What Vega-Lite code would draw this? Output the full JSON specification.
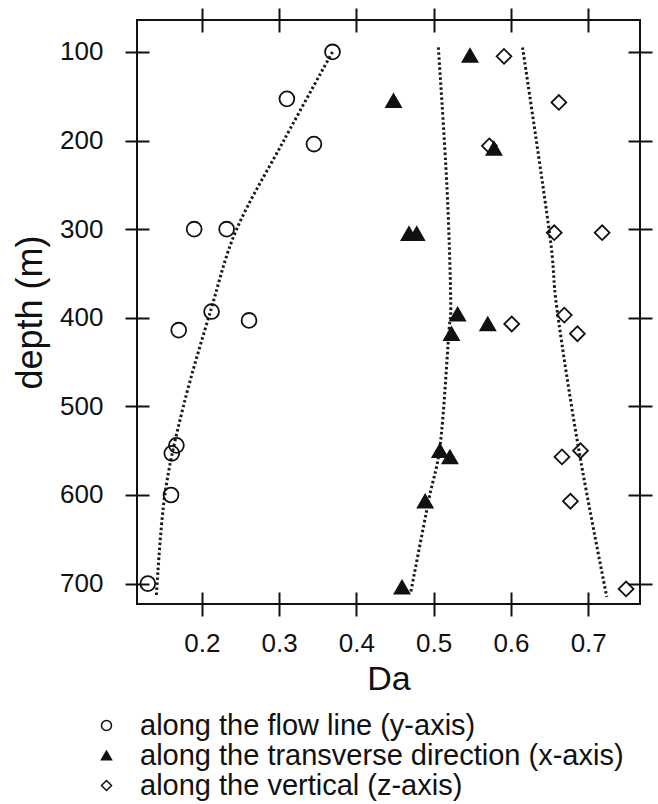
{
  "$schema": "https://vega.github.io/schema/vega-lite/v6.json",
  "autosize": {"type": "none"},
  "padding": {"left": 137, "top": 20, "right": 18, "bottom": 200},
  "width": 503,
  "height": 584,
  "background": "white",
  "config": {
    "view": {"stroke": "#111", "strokeWidth": 2},
    "font": "Liberation Sans",
    "axis": {"grid": false, "domain": false, "tickColor": "#111", "tickWidth": 2, "tickSize": 24, "offset": -12, "labelColor": "#111", "titleColor": "#111", "labelFont": "Liberation Sans", "titleFont": "Liberation Sans", "titleFontWeight": "normal", "labelFontSize": 26}
  },
  "datasets": {
    "pts": [
      {"da": 0.369, "depth": 100, "dir": "along the flow line (y-axis)"},
      {"da": 0.310, "depth": 153, "dir": "along the flow line (y-axis)"},
      {"da": 0.345, "depth": 204, "dir": "along the flow line (y-axis)"},
      {"da": 0.190, "depth": 300, "dir": "along the flow line (y-axis)"},
      {"da": 0.232, "depth": 300, "dir": "along the flow line (y-axis)"},
      {"da": 0.2125, "depth": 393, "dir": "along the flow line (y-axis)"},
      {"da": 0.170, "depth": 414, "dir": "along the flow line (y-axis)"},
      {"da": 0.261, "depth": 403, "dir": "along the flow line (y-axis)"},
      {"da": 0.167, "depth": 544, "dir": "along the flow line (y-axis)"},
      {"da": 0.161, "depth": 553, "dir": "along the flow line (y-axis)"},
      {"da": 0.160, "depth": 600, "dir": "along the flow line (y-axis)"},
      {"da": 0.130, "depth": 700, "dir": "along the flow line (y-axis)"},
      {"da": 0.547, "depth": 104, "dir": "along the transverse direction (x-axis)"},
      {"da": 0.448, "depth": 155, "dir": "along the transverse direction (x-axis)"},
      {"da": 0.578, "depth": 209, "dir": "along the transverse direction (x-axis)"},
      {"da": 0.468, "depth": 305, "dir": "along the transverse direction (x-axis)"},
      {"da": 0.478, "depth": 305, "dir": "along the transverse direction (x-axis)"},
      {"da": 0.531, "depth": 396, "dir": "along the transverse direction (x-axis)"},
      {"da": 0.570, "depth": 407, "dir": "along the transverse direction (x-axis)"},
      {"da": 0.523, "depth": 418, "dir": "along the transverse direction (x-axis)"},
      {"da": 0.508, "depth": 550, "dir": "along the transverse direction (x-axis)"},
      {"da": 0.521, "depth": 557, "dir": "along the transverse direction (x-axis)"},
      {"da": 0.489, "depth": 607, "dir": "along the transverse direction (x-axis)"},
      {"da": 0.459, "depth": 704, "dir": "along the transverse direction (x-axis)"},
      {"da": 0.591, "depth": 105, "dir": "along the vertical (z-axis)"},
      {"da": 0.662, "depth": 157, "dir": "along the vertical (z-axis)"},
      {"da": 0.572, "depth": 206, "dir": "along the vertical (z-axis)"},
      {"da": 0.656, "depth": 304, "dir": "along the vertical (z-axis)"},
      {"da": 0.718, "depth": 304, "dir": "along the vertical (z-axis)"},
      {"da": 0.601, "depth": 407, "dir": "along the vertical (z-axis)"},
      {"da": 0.669, "depth": 397, "dir": "along the vertical (z-axis)"},
      {"da": 0.686, "depth": 418, "dir": "along the vertical (z-axis)"},
      {"da": 0.666, "depth": 557, "dir": "along the vertical (z-axis)"},
      {"da": 0.690, "depth": 550, "dir": "along the vertical (z-axis)"},
      {"da": 0.677, "depth": 607, "dir": "along the vertical (z-axis)"},
      {"da": 0.749, "depth": 706, "dir": "along the vertical (z-axis)"}
    ],
    "fit": [
      {"curve": "A", "da": 0.369, "depth": 100},
      {"curve": "A", "da": 0.306, "depth": 200},
      {"curve": "A", "da": 0.245, "depth": 300},
      {"curve": "A", "da": 0.212, "depth": 390},
      {"curve": "A", "da": 0.176, "depth": 500},
      {"curve": "A", "da": 0.152, "depth": 600},
      {"curve": "A", "da": 0.141, "depth": 715},
      {"curve": "B", "da": 0.506, "depth": 95},
      {"curve": "B", "da": 0.517, "depth": 250},
      {"curve": "B", "da": 0.522, "depth": 380},
      {"curve": "B", "da": 0.5195, "depth": 418},
      {"curve": "B", "da": 0.5086, "depth": 542},
      {"curve": "B", "da": 0.4935, "depth": 606},
      {"curve": "B", "da": 0.470, "depth": 711},
      {"curve": "C", "da": 0.615, "depth": 95},
      {"curve": "C", "da": 0.650, "depth": 305},
      {"curve": "C", "da": 0.6595, "depth": 390},
      {"curve": "C", "da": 0.688, "depth": 550},
      {"curve": "C", "da": 0.724, "depth": 715}
    ]
  },
  "layer": [
    {
      "data": {"name": "fit"},
      "mark": {"type": "line", "interpolate": "cardinal", "color": "#1a1a1a", "strokeWidth": 3, "strokeDash": [2.5, 2.5]},
      "encoding": {
        "x": {"field": "da", "type": "quantitative", "scale": {"domain": [0.116, 0.767], "nice": false, "zero": false}, "axis": {"orient": "top", "values": [0.2, 0.3, 0.4, 0.5, 0.6, 0.7], "labels": false, "title": null}},
        "y": {"field": "depth", "type": "quantitative", "scale": {"domain": [64, 723], "nice": false, "zero": false, "reverse": true}, "axis": {"orient": "right", "values": [100, 200, 300, 400, 500, 600, 700], "labels": false, "title": null}},
        "detail": {"field": "curve"},
        "order": {"field": "depth"}
      }
    },
    {
      "data": {"name": "pts"},
      "mark": {"type": "point", "filled": true, "stroke": "#111", "strokeWidth": 1.8, "opacity": 1, "size": 220},
      "encoding": {
        "x": {"field": "da", "type": "quantitative", "axis": {"orient": "bottom", "values": [0.2, 0.3, 0.4, 0.5, 0.6, 0.7], "format": ".1f", "labelPadding": 14, "title": "Da", "titleFontSize": 34, "titlePadding": 6}},
        "y": {"field": "depth", "type": "quantitative", "axis": {"orient": "left", "values": [100, 200, 300, 400, 500, 600, 700], "labelPadding": 22, "title": "depth (m)", "titleFontSize": 36, "titlePadding": 10}},
        "shape": {"field": "dir", "type": "nominal", "scale": {"domain": ["along the flow line (y-axis)", "along the transverse direction (x-axis)", "along the vertical (z-axis)"], "range": ["circle", "triangle-up", "diamond"]},
          "legend": {"orient": "none", "legendX": -45, "legendY": 691, "title": null, "labelFontSize": 29, "labelLimit": 700, "labelColor": "#111", "labelFont": "Liberation Sans", "symbolSize": 100, "labelOffset": 19, "rowPadding": -8,
            "encode": {"symbols": {"update": {"stroke": {"value": "#111"}, "strokeWidth": {"value": 1.5}}}}}},
        "fill": {"field": "dir", "type": "nominal", "scale": {"domain": ["along the flow line (y-axis)", "along the transverse direction (x-axis)", "along the vertical (z-axis)"], "range": ["transparent", "#111", "transparent"]}}
      }
    }
  ],
  "resolve": {"axis": {"x": "independent", "y": "independent"}}
}
